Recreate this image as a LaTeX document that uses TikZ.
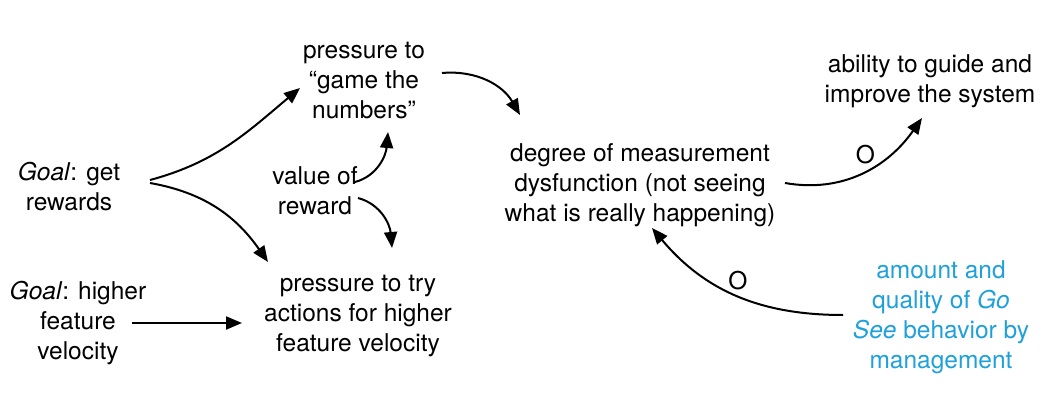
\documentclass[tikz,border=0pt]{standalone}
\usepackage{fontspec}
\setmainfont{TeX Gyre Heros}
\usetikzlibrary{arrows.meta, positioning}

\definecolor{goblue}{RGB}{30,160,218}

\begin{document}
\begin{tikzpicture}[x=1pt, y=-1pt, >={Triangle[length=16pt, width=13pt]},
  txt/.style={align=center, inner sep=0pt, font=\fontsize{24.5}{30}\selectfont},
  link/.style={->, line width=2pt}]
				\useasboundingbox (0,0) rectangle (1064,414);
				
				% factors
				\node[txt] (rew) at (69,187) {\textit{Goal}: get\\rewards};
				\node[txt] (vel) at (78,323) {\textit{Goal}: higher\\feature\\velocity};
				\node[txt] (game) at (364,81) {pressure to\\``game the\\numbers''};
				\node[txt] (val) at (315,191) {value of\\reward};
				\node[txt] (try) at (358,316) {pressure to try\\actions for higher\\feature velocity};
				\node[txt] (deg) at (640,185) {degree of measurement\\dysfunction (not seeing\\what is really happening)};
				\node[txt] (abil) at (930,81) {ability to guide and\\improve the system};
				\node[txt, text=goblue] (go) at (941,317) {amount and\\quality of \textit{Go}\\\textit{See} behavior by\\management};
				
				% links
				\draw[link] ([shift={(81,-7)}]rew.center) to[out=15, in=220] ([shift={(-64,7)}]game.center);
				\draw[link] ([shift={(81,-4)}]rew.center) to[out=-10, in=125] ([shift={(-90,-54)}]try.center);
				\draw[link] ([shift={(40,-9)}]val.center) to[out=15, in=265] ([shift={(24,51)}]game.center);
				\draw[link] ([shift={(43,7)}]val.center) to[out=-15, in=95] ([shift={(34,-68)}]try.center);
				\draw[link] ([shift={(54,0)}]vel.center) -- ([shift={(-116,7)}]try.center);
				\draw[link] ([shift={(78,-8)}]game.center) to[out=5, in=120] ([shift={(-120,-70)}]deg.center);
				\draw[link] ([shift={(145,-2)}]deg.center) to[out=-10, in=235] node[pos=0.6, above left, txt] {O} ([shift={(-8,37)}]abil.center);
				\draw[link] ([shift={(-98,-2)}]go.center) to[out=180, in=-50] node[pos=0.55, above right, txt] {O} ([shift={(12,43)}]deg.center);
			\end{tikzpicture}
\end{document}
